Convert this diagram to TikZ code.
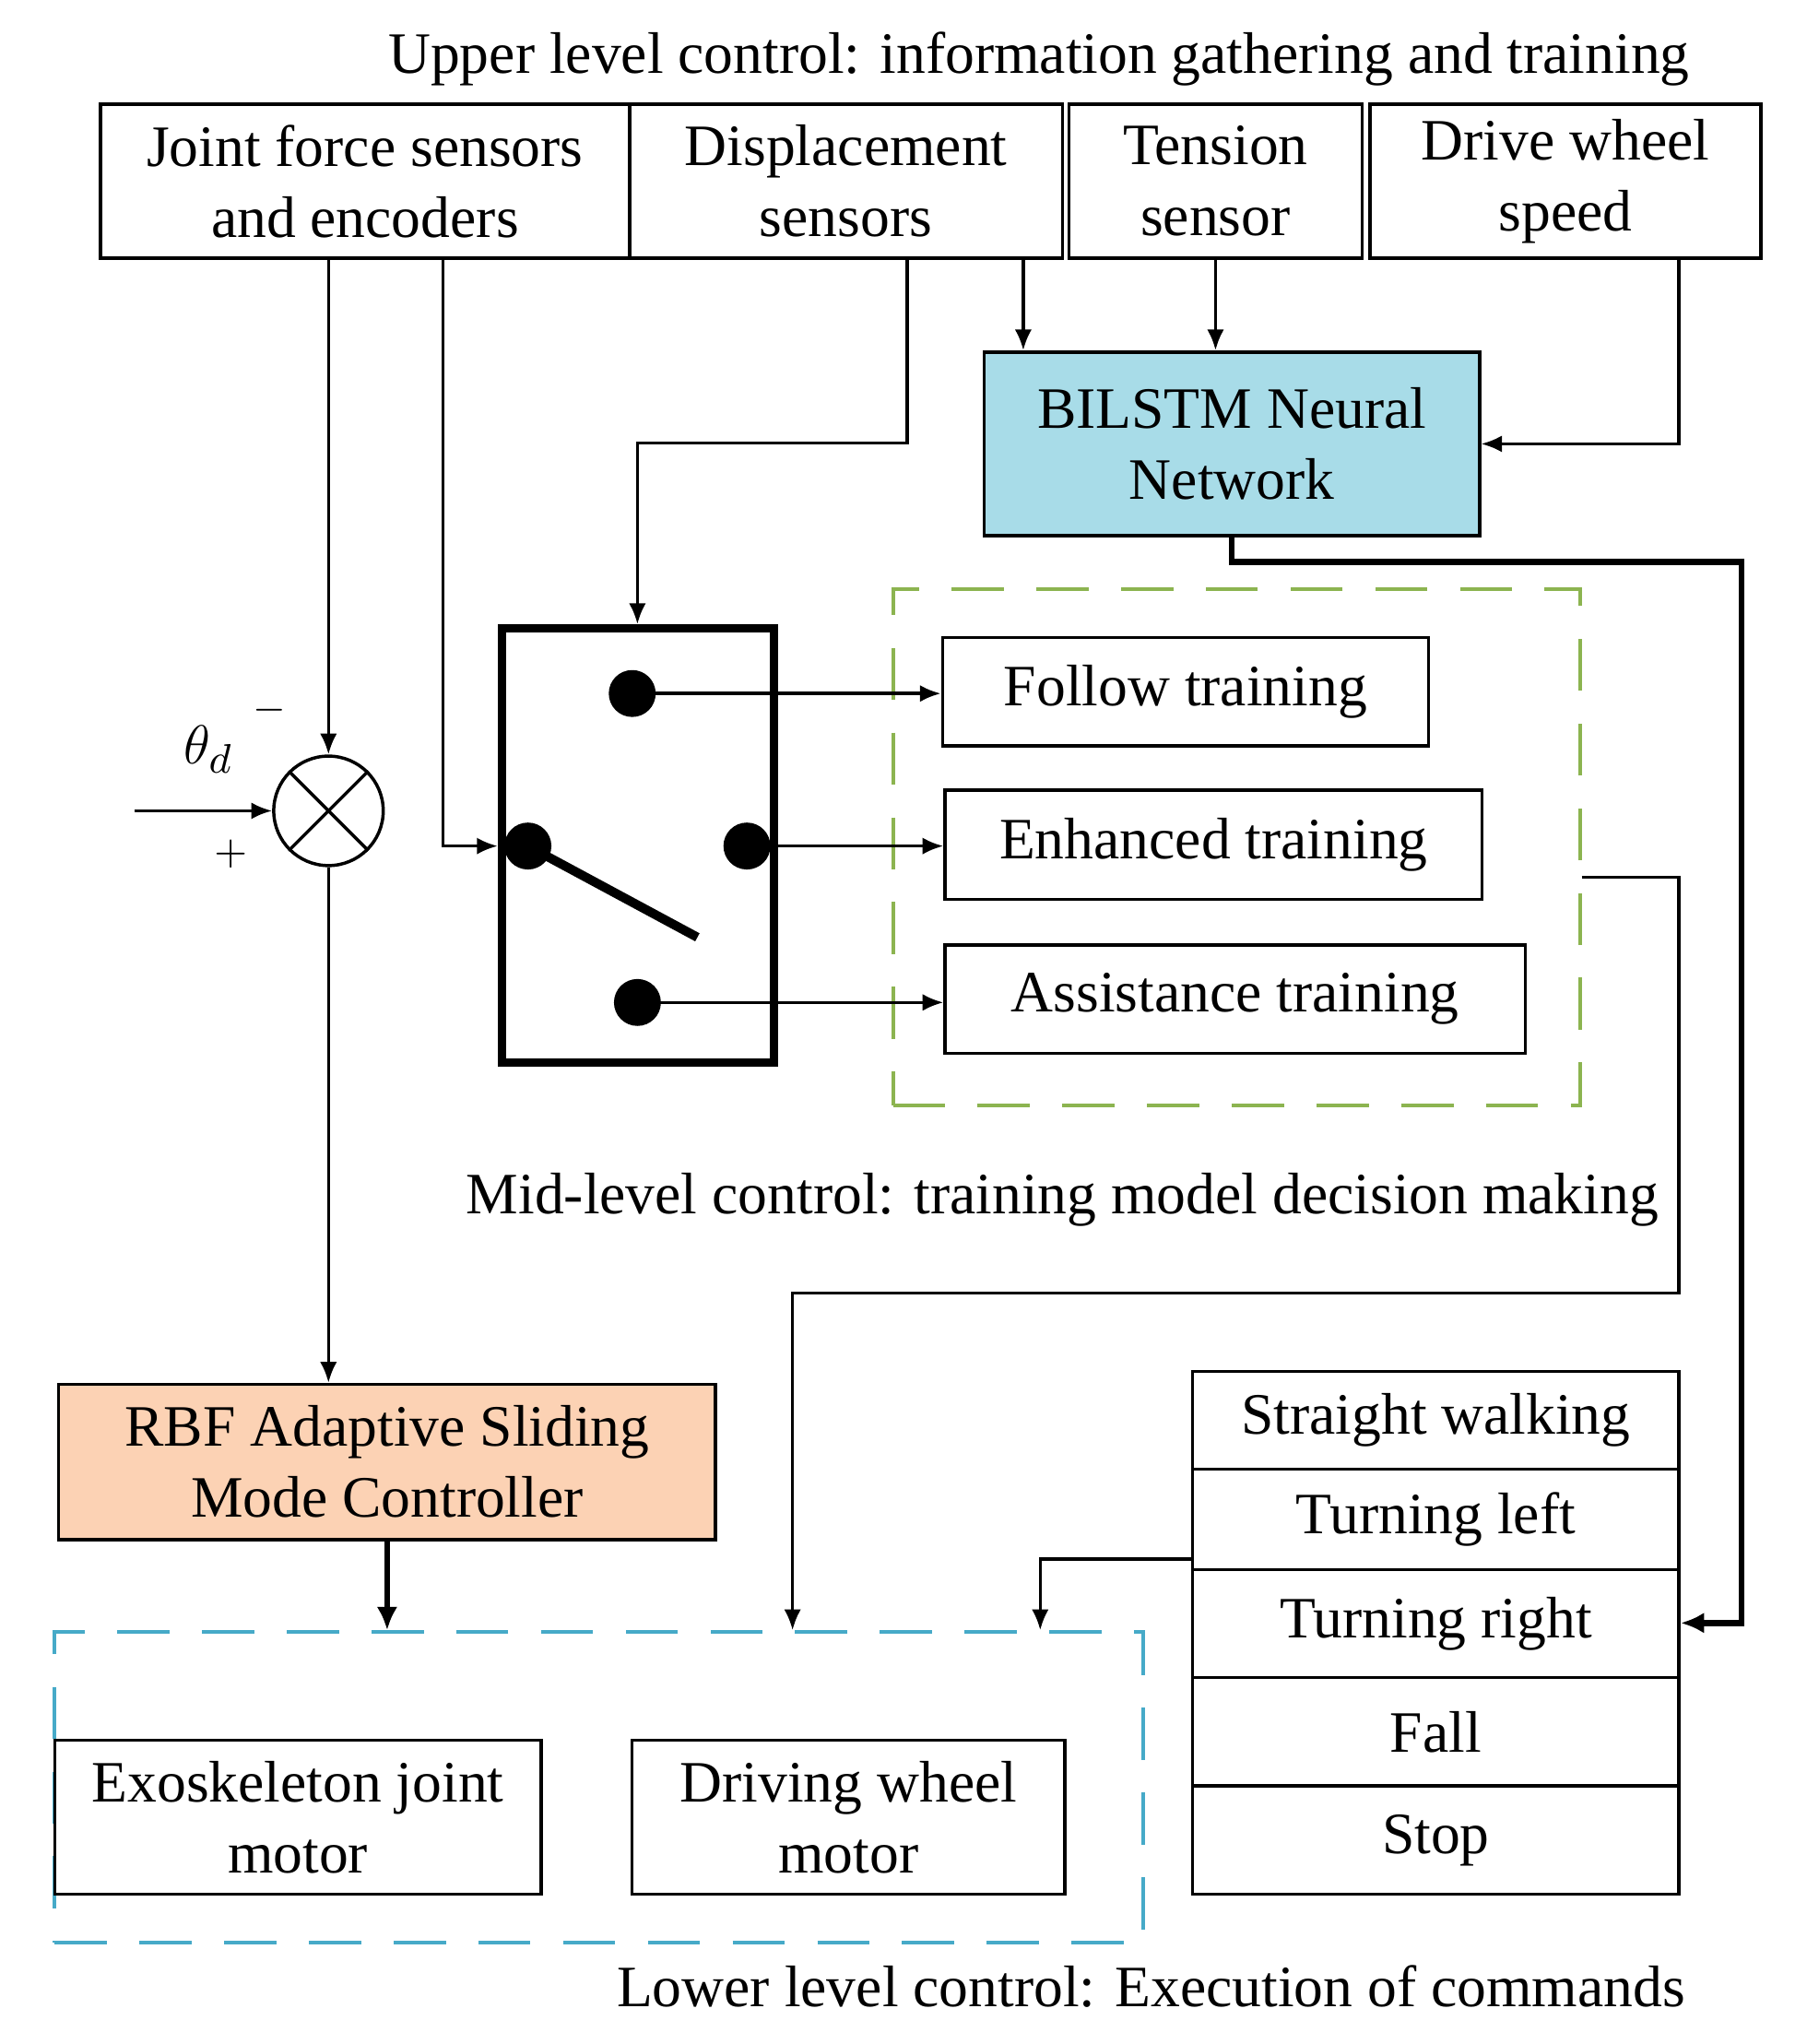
\documentclass[tikz,border=0pt]{standalone}
\usepackage{fontspec}
\setmainfont{Liberation Serif}
\usetikzlibrary{arrows.meta,calc}
\begin{document}
\begin{tikzpicture}[x=0.1mm,y=-0.1mm,
  every node/.style={font=\fontsize{12.8pt}{15.5pt}\selectfont},
  box/.style={draw,line width=0.7pt,inner sep=0pt,align=center,anchor=center},
  ar/.style={-{Latex[length=1.6mm,width=1.3mm]},line width=0.7pt},
  tar/.style={-{Latex[length=1.8mm,width=1.6mm]},line width=1.3pt}]
\newcommand\bx[7][]{\node[box,#1,minimum width={(#4-#2)*0.1mm},minimum height={(#5-#3)*0.1mm}] (#6) at ({(#2+#4)/2},{(#3+#5)/2}) {#7};}
\useasboundingbox (0,0) rectangle (1386,1568);
\node (up) at (797,45) {Upper level control: information gathering and training};
\bx{77}{80}{483}{198}{b1}{Joint force sensors\\and encoders}
\bx{483}{80}{815}{198}{b2}{Displacement\\sensors}
\bx{820}{80}{1045}{198}{b3}{Tension\\sensor}
\bx{1051}{80}{1351}{198}{b4}{Drive wheel\\speed}
\bx[fill={rgb,255:red,168;green,220;blue,232}]{755}{270}{1135}{411}{nn}{BILSTM Neural\\Network}
\bx[line width=1.8pt]{385}{482}{594}{815}{sw}{}
\bx{723}{489}{1096}{572}{ft}{Follow training}
\bx{725}{606}{1137}{690}{et}{Enhanced training}
\bx{725}{725}{1170}{808}{at}{Assistance training}
\node[draw={rgb,255:red,140;green,180;blue,80},dash pattern=on 4mm off 2.5mm,line width=0.8pt,minimum width=52.7mm,minimum height=39.6mm,inner sep=0pt] (gb) at (948.5,650) {};
\node (mid) at (815,920) {Mid-level control: training model decision making};
\bx[fill={rgb,255:red,252;green,210;blue,180}]{45}{1062}{549}{1181}{rbf}{RBF Adaptive Sliding\\Mode Controller}
\node[draw={rgb,255:red,70;green,170;blue,200},dash pattern=on 4mm off 2.5mm,line width=0.8pt,minimum width=83.5mm,minimum height=23.8mm,inner sep=0pt] (bb) at (459.5,1371) {};
\bx{42}{1335}{415}{1453}{ex}{Exoskeleton joint\\motor}
\bx{485}{1335}{817}{1453}{dw}{Driving wheel\\motor}
\bx{915}{1052}{1288}{1127}{s1}{Straight walking}
\bx{915}{1127}{1288}{1204}{s2}{Turning left}
\bx{915}{1204}{1288}{1287}{s3}{Turning right}
\bx{915}{1287}{1288}{1370}{s4}{Fall}
\bx{915}{1370}{1288}{1453}{s5}{Stop}
\node (low) at (883,1524) {Lower level control: Execution of commands};
\node[draw,circle,minimum size=8.4mm,inner sep=0pt,line width=0.7pt] (sj) at (252,622) {};
\draw[line width=0.7pt] (sj.north west)--(sj.south east) (sj.north east)--(sj.south west);
\node (th) at (160,575) {$\theta_d$};
\node[font=\fontsize{9pt}{10pt}\selectfont] at (207,545) {$-$};
\node[font=\fontsize{9pt}{10pt}\selectfont] at (177,655) {$+$};
\coordinate (in) at (103,622);
\draw[ar] (in) -- (sj.west);
\foreach \n/\x/\y in {d1/485/532,d2/405/649,d3/573/649,d4/489/769}
  \fill (\x,\y) circle (18) coordinate (\n);
\draw[line width=2pt] (d2) -- (535,719);
\draw[ar] (b1.south -| 252,0) -- (sj.north);
\draw[ar] (b1.south -| 340,0) |- (sw.west |- d2);
\draw[ar] (b2.south -| 696,0) -- (696,340) -| (sw.north -| 489,0);
\draw[ar] (b2.south -| 785,0) -- (nn.north -| 785,0);
\draw[ar] (b3.south) -- (nn.north -| b3.south);
\draw[ar] (b4.south -| 1288,0) |- (nn.east);
\draw[tar] (nn.south) -- (945,431) -| (1336,1245) -- (s3.east |- 0,1245);
\draw[ar] (d1) -- (ft.west |- d1);
\draw[ar] (d3) -- (et.west |- d3);
\draw[ar] (d4) -- (at.west |- d4);
\draw[ar] (gb.east |- 0,673) -- (1288,673) |- (608,992) -- (bb.north -| 608,0);
\draw[ar] (sj.south) -- (rbf.north -| sj.south);
\draw[tar] (rbf.south -| 297,0) -- (bb.north -| 297,0);
\draw[ar] (s2.west |- 0,1196) -| (bb.north -| 798,0);
\end{tikzpicture}
\end{document}
